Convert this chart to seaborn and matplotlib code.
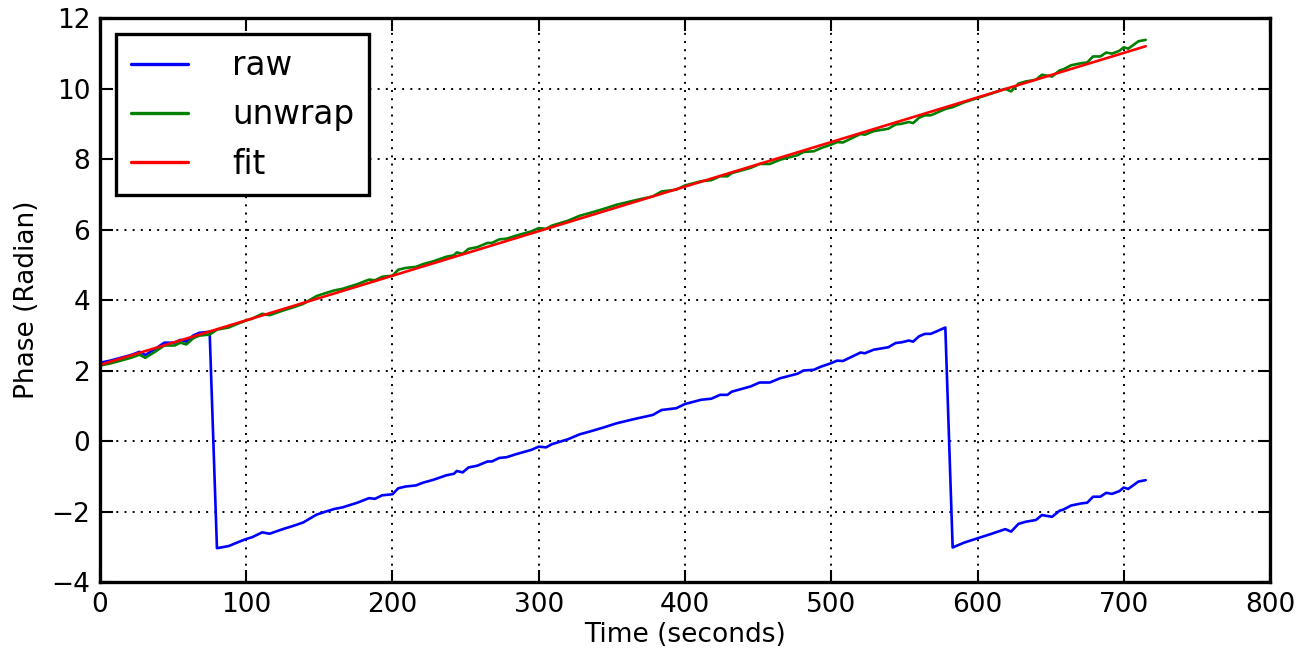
import matplotlib
matplotlib.use("Agg")
import matplotlib.pyplot as plt
import pandas as pd
import seaborn as sns

# sample times (s) shared by the raw and unwrapped phase
time_s = [
    0, 7, 15, 22, 27, 31, 38, 44, 51, 55, 59, 64, 68, 75,
    80, 88, 95, 100, 104, 111, 116, 125, 132, 139, 148, 153, 160, 166, 176,
    184, 188, 193, 200, 204, 209, 216, 221, 228, 237, 242, 244, 248, 252,
    258, 265, 268, 273, 278, 284, 295, 300, 305, 309, 320, 328, 335, 344,
    353, 365, 378, 384, 394, 400, 411, 418, 424, 429, 432, 445, 451, 458,
    465, 477, 481, 488, 493, 500, 504, 508, 520, 523, 529, 539, 544, 548,
    553, 556, 560, 564, 568, 572, 578,
    583, 591, 600, 609, 619, 623, 628, 633, 640, 644, 651, 656, 659, 664,
    671, 675, 679, 684, 688, 692, 697, 700, 703, 710, 715,
]
raw_phase = [
    2.22, 2.28, 2.37, 2.45, 2.53, 2.44, 2.62, 2.79, 2.79, 2.87, 2.82, 3.00, 3.07, 3.10,
    -3.04, -2.98, -2.86, -2.78, -2.73, -2.59, -2.63, -2.50, -2.41, -2.31, -2.09, -2.02,
    -1.93, -1.88, -1.75, -1.62, -1.64, -1.54, -1.51, -1.34, -1.29, -1.26, -1.18, -1.10,
    -0.97, -0.93, -0.85, -0.89, -0.75, -0.70, -0.58, -0.58, -0.48, -0.46, -0.38, -0.25,
    -0.16, -0.18, -0.09, 0.05, 0.19, 0.27, 0.38, 0.50, 0.62, 0.74, 0.88, 0.93, 1.05,
    1.17, 1.20, 1.31, 1.31, 1.40, 1.55, 1.66, 1.66, 1.78, 1.91, 2.00, 2.02, 2.11, 2.21,
    2.28, 2.27, 2.51, 2.49, 2.59, 2.66, 2.78, 2.80, 2.85, 2.82, 2.97, 3.04, 3.04, 3.11,
    3.22,
    -3.02, -2.88, -2.76, -2.64, -2.50, -2.57, -2.35, -2.29, -2.24, -2.10, -2.15, -1.98,
    -1.94, -1.83, -1.77, -1.75, -1.58, -1.58, -1.47, -1.50, -1.42, -1.32, -1.36, -1.15,
    -1.11,
]
unwrap_phase = [
    2.14, 2.20, 2.29, 2.37, 2.45, 2.36, 2.54, 2.71, 2.71, 2.79, 2.74, 2.92, 2.99, 3.02,
    3.16, 3.22, 3.34, 3.42, 3.47, 3.61, 3.57, 3.70, 3.79, 3.89, 4.11, 4.18, 4.27, 4.32,
    4.45, 4.58, 4.56, 4.66, 4.69, 4.86, 4.91, 4.94, 5.02, 5.10, 5.23, 5.27, 5.35, 5.31,
    5.45, 5.50, 5.62, 5.62, 5.72, 5.74, 5.82, 5.95, 6.04, 6.02, 6.11, 6.25, 6.39, 6.47,
    6.58, 6.70, 6.82, 6.94, 7.08, 7.13, 7.25, 7.37, 7.40, 7.51, 7.51, 7.60, 7.75, 7.86,
    7.86, 7.98, 8.11, 8.20, 8.22, 8.31, 8.41, 8.48, 8.47, 8.71, 8.69, 8.79, 8.86, 8.98,
    9.00, 9.05, 9.02, 9.17, 9.24, 9.24, 9.31, 9.42,
    9.47, 9.61, 9.73, 9.85, 9.99, 9.92, 10.14, 10.20, 10.25, 10.39, 10.34, 10.51, 10.55,
    10.66, 10.72, 10.74, 10.91, 10.91, 11.02, 10.99, 11.07, 11.17, 11.13, 11.34, 11.38,
]
fit_time = [0, 715]
fit_phase = [2.16, 11.20]

series_names = ["raw", "unwrap", "fit"]
series_colors = ["#0000ff", "#008000", "#ff0000"]
x_ticks = [0, 100, 200, 300, 400, 500, 600, 700, 800]
y_ticks = [-4, -2, 0, 2, 4, 6, 8, 10, 12]

sns.set_style("white")
plt.rcParams["font.family"] = ["DejaVu Sans"]
plt.rcParams["text.color"] = "black"

df = pd.concat([
    pd.DataFrame({"time": time_s, "phase": raw_phase, "series": "raw"}),
    pd.DataFrame({"time": time_s, "phase": unwrap_phase, "series": "unwrap"}),
    pd.DataFrame({"time": fit_time, "phase": fit_phase, "series": "fit"}),
], ignore_index=True)

fig = plt.figure(figsize=(13.03, 6.53), dpi=100)
fig.subplots_adjust(left=0.0767, right=0.9747, bottom=0.1087, top=0.9724)
ax = fig.add_subplot(111)

sns.lineplot(data=df, x="time", y="phase", hue="series", hue_order=series_names,
             palette=dict(zip(series_names, series_colors)), estimator=None,
             sort=False, linewidth=1.9, ax=ax)

ax.set_xlim(0, 800)
ax.set_ylim(-4, 12)
ax.set_xticks(x_ticks)
ax.set_yticks(y_ticks)
ax.grid(True, color="black", linestyle=(0, (1, 3.2)), linewidth=1.4)
ax.tick_params(direction="in", length=9, width=1.5, top=True, right=True,
               bottom=True, left=True, labelsize=19, labelcolor="black",
               color="black", pad=7)
for s in ax.spines.values():
    s.set_color("black")
    s.set_linewidth(2.4)
ax.set_xlabel("Time (seconds)", fontsize=19, color="black", labelpad=3)
ax.set_ylabel("Phase (Radian)", fontsize=19, color="black", labelpad=8)

old = ax.get_legend()
handles = old.legend_handles
labels = [t.get_text() for t in old.get_texts()]
leg = ax.legend(handles, labels, loc="upper left", fontsize=23.5, frameon=True,
                fancybox=False, framealpha=1, edgecolor="black",
                handlelength=1.75, handletextpad=1.35, labelspacing=0.5,
                borderpad=0.45, borderaxespad=0.5)
leg.get_frame().set_linewidth(2.4)
for h in leg.legend_handles:
    h.set_linewidth(2.4)
for t in leg.get_texts():
    t.set_color("black")

fig.savefig("out.png", dpi=100)
plt.close(fig)
